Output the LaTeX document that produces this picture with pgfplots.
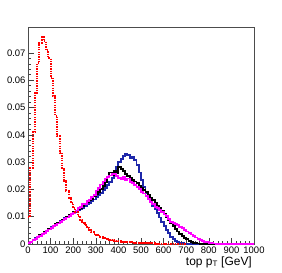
\documentclass[border=0pt]{standalone}
\usepackage{pgfplots}
\pgfplotsset{compat=1.18}
\usepackage{fontspec}
\setmainfont{Liberation Sans}
\definecolor{rootblue}{RGB}{30,40,170}
\definecolor{rootmag}{RGB}{255,0,255}
\definecolor{rootred}{RGB}{255,0,0}
\begin{document}
\begin{tikzpicture}
\begin{axis}[
  scale only axis,
  width=226bp, height=217bp,
  xmin=0, xmax=1000, ymin=0, ymax=0.0795,
  xtick={0,100,...,1000},
  minor x tick num=4,
  ytick={0,0.01,...,0.07},
  minor y tick num=4,
  xtick pos=bottom, ytick pos=left,
  tick align=inside,
  major tick length=6bp, minor tick length=3bp,
  tick style={black!75, line width=0.6pt},
  axis line style={black!70, line width=0.8pt},
  scaled y ticks=false,
  /pgf/number format/1000 sep={},
  yticklabel style={/pgf/number format/fixed, /pgf/number format/precision=2, font=\fontsize{9.5}{10}\selectfont, xshift=1bp},
  xticklabel style={font=\fontsize{9.5}{10}\selectfont, yshift=1bp},
  /pgf/number format/assume math mode=true,
  xlabel={top p$_{\mathrm{T}}$ [GeV]},
  xlabel style={at={(rel axis cs:1,0)}, anchor=base east, inner sep=0pt, yshift=-21bp, xshift=-2bp, font=\fontsize{12}{14}\selectfont},
  clip=true,
]
\coordinate (sw) at (rel axis cs:0,0);
\coordinate (ne) at (rel axis cs:1,1);
% blue
\addplot[const plot, rootblue, line width=1.9bp] coordinates {
(0,0.0004)(10,0.0009)(20,0.0015)(30,0.0021)(40,0.0027)(50,0.0031)(60,0.0038)(70,0.0043)(80,0.0049)(90,0.0055)
(100,0.0061)(110,0.0066)(120,0.0071)(130,0.0077)(140,0.0083)(150,0.0089)(160,0.0094)(170,0.0100)(180,0.0104)(190,0.0111)
(200,0.0114)(210,0.0118)(220,0.0124)(230,0.0128)(240,0.0133)(250,0.0138)(260,0.0146)(270,0.0150)(280,0.0157)(290,0.0163)
(300,0.0172)(310,0.0179)(320,0.0187)(330,0.0196)(340,0.0205)(350,0.0215)(360,0.0226)(370,0.0243)(380,0.0266)(390,0.0284)
(400,0.0301)(410,0.0310)(420,0.0322)(430,0.0331)(440,0.0326)(450,0.0315)(460,0.0320)(470,0.0308)(480,0.0288)(490,0.0262)
(500,0.0236)(510,0.0210)(520,0.0188)(530,0.0167)(540,0.0152)(550,0.0140)(560,0.0127)(570,0.0113)(580,0.0097)(590,0.0082)
(600,0.0067)(610,0.0052)(620,0.0039)(630,0.0027)(640,0.0018)(650,0.0012)(660,0.0008)(670,0.0005)(680,0.0003)(690,0.0002)
(700,0.0001)(710,0)(1000,0)
};
% black
\addplot[const plot, black, line width=1.9bp] coordinates {
(0,0.0003)(10,0.0009)(20,0.0014)(30,0.0020)(40,0.0025)(50,0.0032)(60,0.0036)(70,0.0044)(80,0.0048)(90,0.0056)
(100,0.0060)(110,0.0064)(120,0.0072)(130,0.0076)(140,0.0082)(150,0.0088)(160,0.0092)(170,0.0098)(180,0.0106)(190,0.0110)
(200,0.0116)(210,0.0121)(220,0.0127)(230,0.0133)(240,0.0140)(250,0.0146)(260,0.0152)(270,0.0160)(280,0.0166)(290,0.0175)
(300,0.0183)(310,0.0192)(320,0.0203)(330,0.0212)(340,0.0228)(350,0.0245)(360,0.0262)(370,0.0254)(380,0.0268)(390,0.0260)
(400,0.0282)(410,0.0276)(420,0.0267)(430,0.0258)(440,0.0250)(450,0.0243)(460,0.0236)(470,0.0229)(480,0.0222)(490,0.0214)
(500,0.0206)(510,0.0197)(520,0.0189)(530,0.0180)(540,0.0170)(550,0.0160)(560,0.0151)(570,0.0141)(580,0.0132)(590,0.0121)
(600,0.0109)(610,0.0098)(620,0.0087)(630,0.0076)(640,0.0066)(650,0.0056)(660,0.0046)(670,0.0037)(680,0.0030)(690,0.0023)
(700,0.0017)(710,0.0012)(720,0.0008)(730,0.0005)(740,0.0003)(750,0.0002)(760,0.0001)(770,0)(1000,0)
};
% magenta
\addplot[const plot, rootmag, line width=1.9bp] coordinates {
(0,0.0004)(10,0.0008)(20,0.0014)(30,0.0019)(40,0.0026)(50,0.0030)(60,0.0037)(70,0.0041)(80,0.0047)(90,0.0053)
(100,0.0058)(110,0.0065)(120,0.0069)(130,0.0075)(140,0.0081)(150,0.0086)(160,0.0093)(170,0.0097)(180,0.0103)(190,0.0109)
(200,0.0115)(210,0.0122)(220,0.0131)(230,0.0137)(240,0.0145)(250,0.0148)(260,0.0156)(270,0.0163)(280,0.0173)(290,0.0180)
(300,0.0196)(310,0.0206)(320,0.0218)(330,0.0229)(340,0.0240)(350,0.0247)(360,0.0251)(370,0.0255)(380,0.0258)(390,0.0249)
(400,0.0243)(410,0.0238)(420,0.0247)(430,0.0233)(440,0.0240)(450,0.0226)(460,0.0222)(470,0.0216)(480,0.0210)(490,0.0201)
(500,0.0191)(510,0.0185)(520,0.0176)(530,0.0166)(540,0.0155)(550,0.0146)(560,0.0136)(570,0.0131)(580,0.0123)(590,0.0118)
(600,0.0108)(610,0.0102)(620,0.0092)(630,0.0081)(640,0.0076)(650,0.0072)(660,0.0068)(670,0.0062)(680,0.0058)(690,0.0050)
(700,0.0046)(710,0.0040)(720,0.0035)(730,0.0029)(740,0.0024)(750,0.0019)(760,0.0015)(770,0.0012)(780,0.0009)(790,0.0007)
(800,0.0005)(810,0.0003)(820,0.0002)(830,0.0001)(840,0)(1000,0)
};
% red dotted
\addplot[const plot, rootred, line width=2bp, dash pattern=on 1.3bp off 1.1bp] coordinates {
(0,0.0100)(10,0.0280)(20,0.0410)(30,0.0553)(40,0.0663)(50,0.0737)(60,0.0757)(70,0.0743)(80,0.0710)(90,0.0680)
(100,0.0610)(110,0.0542)(120,0.0470)(130,0.0395)(140,0.0334)(150,0.0276)(160,0.0232)(170,0.0196)(180,0.0170)(190,0.0150)
(200,0.0132)(210,0.0116)(220,0.0102)(230,0.0089)(240,0.0078)(250,0.0068)(260,0.0059)(270,0.0051)(280,0.0044)(290,0.0038)
(300,0.0033)(310,0.0029)(320,0.0025)(330,0.0022)(340,0.0019)(350,0.0017)(360,0.0015)(370,0.0013)(380,0.0012)(390,0.0011)
(400,0.0010)(410,0.0009)(420,0.0008)(430,0.0007)(440,0.0007)(450,0.0006)(460,0.0005)(470,0.0005)(480,0.0004)(490,0.0004)
(500,0.0003)(510,0.0003)(520,0.0003)(530,0.0002)(540,0.0002)(550,0.0002)(560,0.0001)(570,0.0001)(580,0.0001)(590,0.0001)
(600,0.0001)(610,0.0001)(620,0.0001)(630,0.0001)(640,0.0001)(650,0.0001)(660,0)(700,0)
};
\end{axis}
\pgfresetboundingbox
\path[use as bounding box] (sw) ++(-28bp,-28bp) rectangle ([shift={(28bp,27bp)}]ne);
\end{tikzpicture}
\end{document}
